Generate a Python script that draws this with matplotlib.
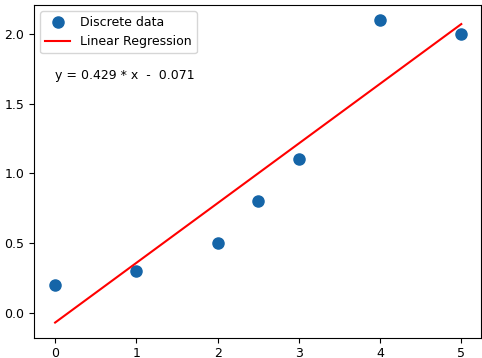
import numpy as np
import matplotlib
matplotlib.use("Agg")
import matplotlib.pyplot as plt

x = np.array([0, 1, 2, 2.5, 3, 4, 5])
y = np.array([0.2, 0.3, 0.5, 0.8, 1.1, 2.1, 2.0])

slope, intercept = np.polyfit(x, y, 1)

fig = plt.figure(figsize=(4.82, 3.58), dpi=100)
ax = fig.add_axes([0.0705, 0.0567, 0.927, 0.930])
ax.plot(x, y, 'o', color='#1565a8', markersize=8, label='Discrete data')
ax.plot(x, slope * x + intercept, color='red', linewidth=1.5, label='Linear Regression')
ax.text(0, 1.7, 'y = %.3f * x  -  %.3f' % (slope, -intercept), va='center', fontsize=9)
ax.legend(loc='upper left', fontsize=9)
ax.set_xlim(-0.26, 5.24)
ax.set_ylim(-0.18, 2.21)
ax.tick_params(labelsize=9)
fig.savefig('out.png', dpi=100)
